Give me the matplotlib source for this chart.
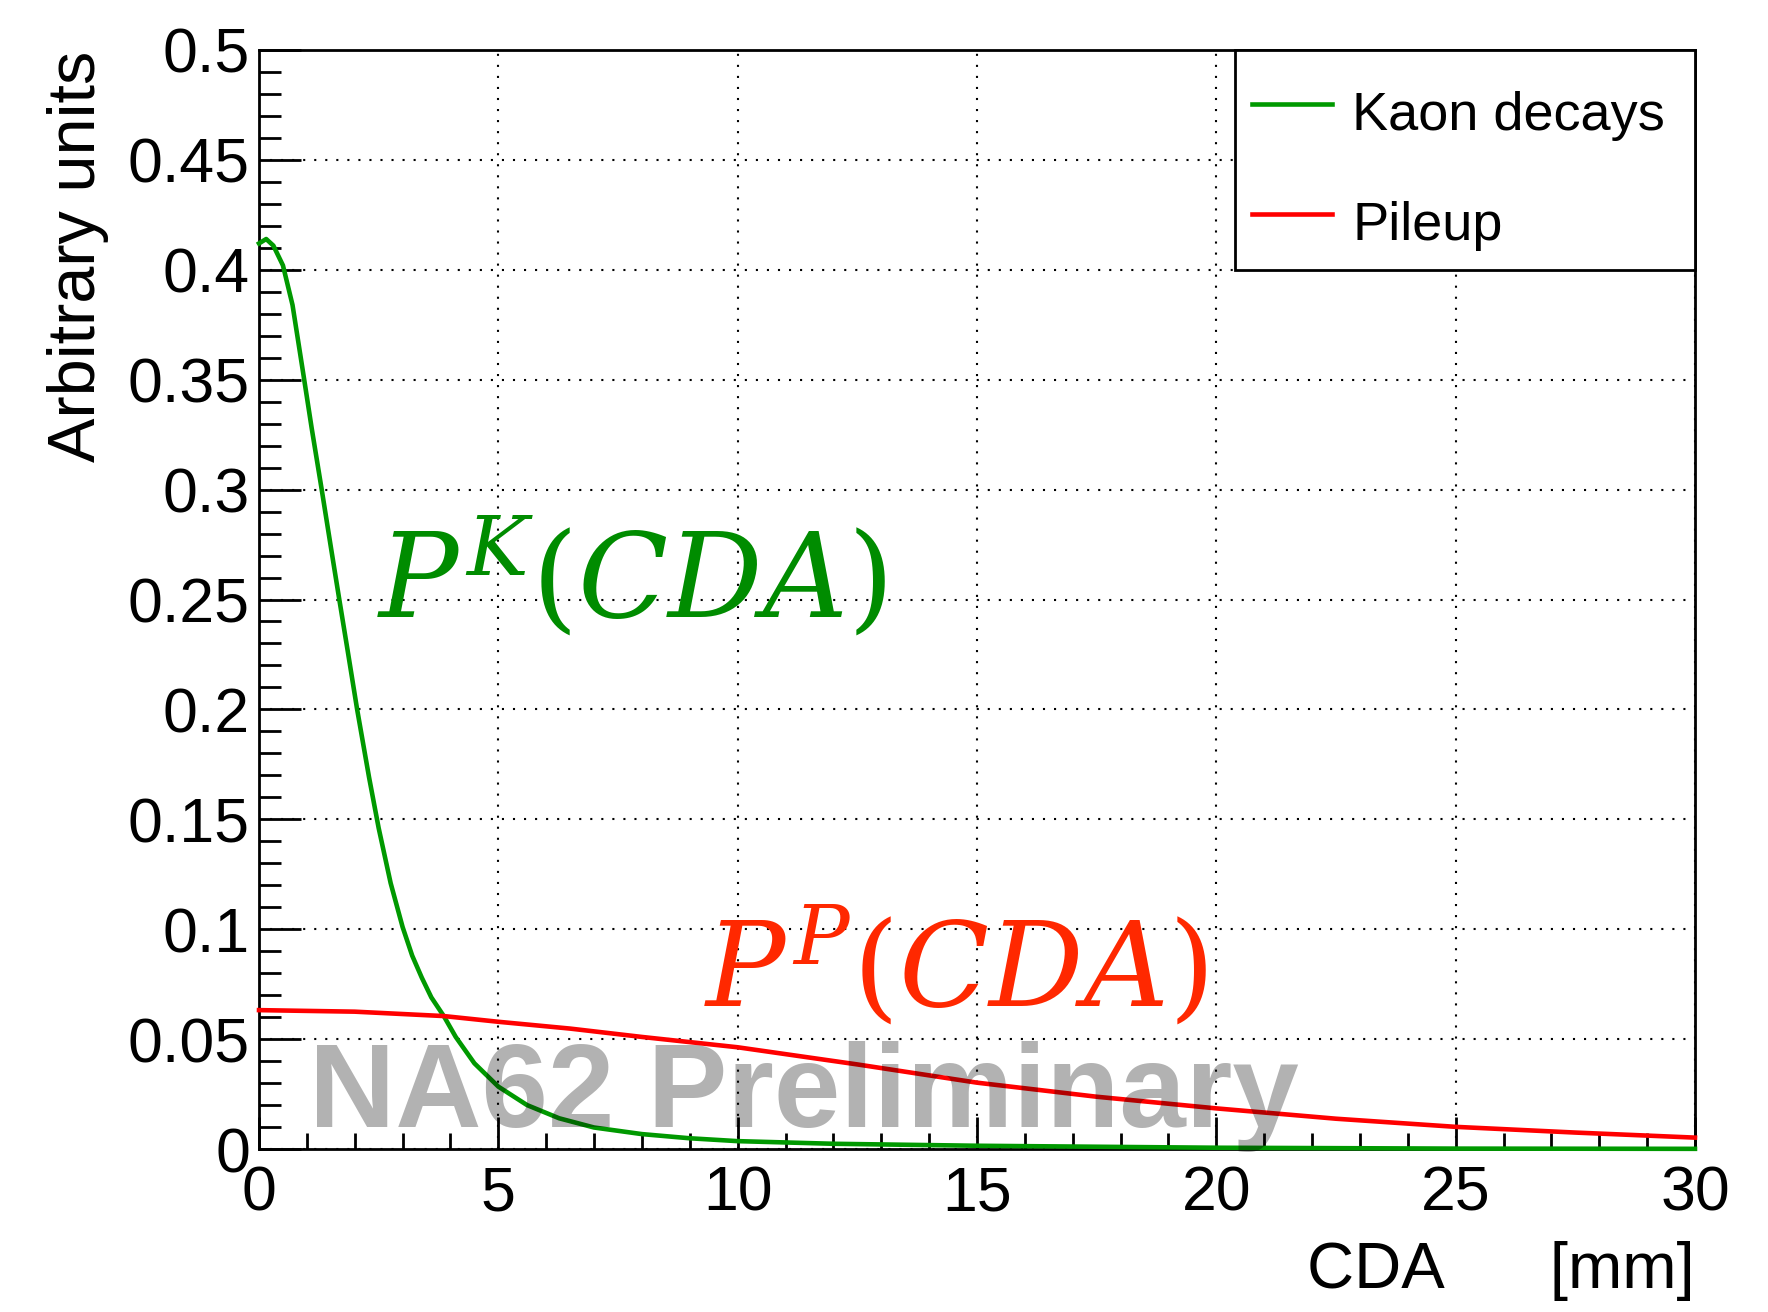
import matplotlib
matplotlib.use("Agg")

import matplotlib.pyplot as plt
from matplotlib.patches import Rectangle
from matplotlib.ticker import MultipleLocator

# ================== DATA ==================
kaon_cda = [0, 0.15, 0.3, 0.5, 0.7, 0.93, 1.1, 1.31, 1.5, 1.67, 1.85, 2.05, 2.3, 2.5,
            2.75, 3.0, 3.2, 3.4, 3.6, 3.86, 4.11, 4.5, 5.0, 5.6, 6.27, 7.0, 8.0, 9.0,
            10, 12, 15, 20, 25, 30]
kaon_val = [0.412, 0.414, 0.411, 0.402, 0.384, 0.352, 0.328, 0.300, 0.274, 0.251,
            0.227, 0.200, 0.169, 0.146, 0.121, 0.101, 0.088, 0.078, 0.069, 0.0605,
            0.051, 0.039, 0.0284, 0.020, 0.014, 0.0098, 0.0068, 0.0049, 0.0036,
            0.0024, 0.0015, 0.0006, 0.0002, 0.0001]

pileup_cda = [0, 2, 3.86, 5, 6.5, 8, 10, 12.5, 15, 17.5, 20, 22.5, 25, 27.5, 30]
pileup_val = [0.0632, 0.0625, 0.0605, 0.0579, 0.0548, 0.051, 0.0463, 0.0385, 0.0302,
              0.0238, 0.0185, 0.0138, 0.0101, 0.0075, 0.0052]

x_ticks = [0, 5, 10, 15, 20, 25, 30]
x_tick_labels = ["0", "5", "10", "15", "20", "25", "30"]
y_ticks = [0, 0.05, 0.1, 0.15, 0.2, 0.25, 0.3, 0.35, 0.4, 0.45, 0.5]
y_tick_labels = ["0", "0.05", "0.1", "0.15", "0.2", "0.25", "0.3", "0.35", "0.4",
                 "0.45", "0.5"]

series_names = ["Kaon decays", "Pileup"]
series_colors = ["#009900", "#ff0000"]

# ================== STYLE ==================
plt.rcParams["font.family"] = ["Liberation Sans", "DejaVu Sans"]
plt.rcParams["mathtext.fontset"] = "dejavuserif"

fig = plt.figure(figsize=(17.68, 13.12), dpi=100)
ax = fig.add_axes([0.1465, 0.1242, 0.8122, 0.8377])

# ================== CURVES ==================
ax.plot(kaon_cda, kaon_val, color=series_colors[0], lw=3.3, zorder=3, clip_on=False,
        solid_joinstyle="round")
ax.plot(pileup_cda, pileup_val, color=series_colors[1], lw=3.3, zorder=3, clip_on=False,
        solid_joinstyle="round")

ax.set_xlim(0, 30)
ax.set_ylim(0, 0.5)

# ---- ROOT-like axes ----
ax.set_xticks(x_ticks)
ax.set_xticklabels(x_tick_labels)
ax.set_yticks(y_ticks)
ax.set_yticklabels(y_tick_labels)
ax.xaxis.set_minor_locator(MultipleLocator(1))
ax.yaxis.set_minor_locator(MultipleLocator(0.01))

ax.tick_params(which="both", direction="in", top=False, right=False, width=2, color="black")
ax.tick_params(axis="x", which="major", length=23, pad=11, labelsize=45)
ax.tick_params(axis="x", which="minor", length=11.5)
ax.tick_params(axis="y", which="major", length=30, pad=6.5, labelsize=45)
ax.tick_params(axis="y", which="minor", length=16)

ax.grid(True, which="major", color="black", lw=1.5, linestyle=(0, (1, 4.3)))
for sp in ax.spines.values():
    sp.set_linewidth(2)

# ---- axis titles ----
fig.text(47 / 1768, 1 - 51 / 1312, "Arbitrary units", rotation=90,
         ha="left", va="top", fontsize=48)
fig.text(1695 / 1768, 24 / 1312, "CDA      [mm]", ha="right", va="baseline", fontsize=47)

# ================== LEGEND (drawn by hand) ==================
ax.add_patch(Rectangle((0.6797, 0.7998), 0.3203, 0.2002, transform=ax.transAxes,
                       facecolor="white", edgecolor="black", lw=2, zorder=4, clip_on=False))
leg_y_line = [0.9509, 0.8508]
leg_y_text = [0.9272, 0.8272]
for name, col, yl, yt in zip(series_names, series_colors, leg_y_line, leg_y_text):
    ax.plot([0.6915, 0.7472], [yl, yl], color=col, lw=3.3, transform=ax.transAxes,
            zorder=5, clip_on=False)
    ax.text(0.7612, yt, name, transform=ax.transAxes, fontsize=39,
            ha="left", va="baseline", zorder=5)

# ================== ANNOTATIONS ==================
ax.text(0.0822, 0.484, r"$P^{K}(CDA)$", transform=ax.transAxes, color="#008c00",
        fontsize=85, ha="left", va="baseline", zorder=4)
ax.text(0.3099, 0.1292, r"$P^{P}(CDA)$", transform=ax.transAxes, color="#ff2800",
        fontsize=85, ha="left", va="baseline", zorder=4)

# watermark sits on top of everything, semi-transparent
ax.text(0.0345, 0.020, "NA62 Preliminary", transform=ax.transAxes, color="black",
        alpha=0.3, fontsize=86, fontweight="bold", ha="left", va="baseline", zorder=6)

plt.savefig("out.png", dpi=100)
plt.close()
